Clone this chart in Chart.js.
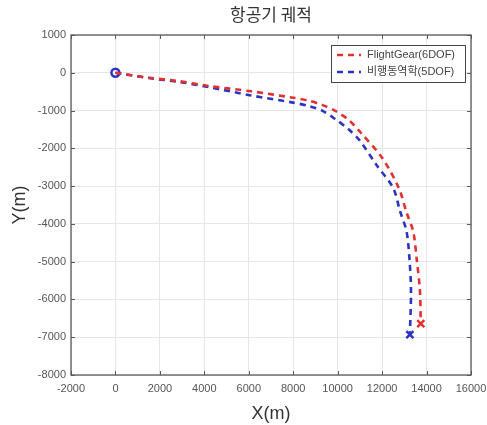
<!DOCTYPE html>
<html>
<head>
<meta charset="utf-8">
<script src="https://cdn.jsdelivr.net/npm/chart.js@4.4.1/dist/chart.umd.min.js"></script>
<style>
  html, body { margin: 0; padding: 0; background: #fff; }
  #wrap { width: 487px; height: 425px; }
</style>
</head>
<body>
<div id="wrap"><canvas id="traj"></canvas></div>
<script>
// 궤적 데이터
const fgX = [0, 1500, 2850, 4200, 6100, 8000, 8700, 9300, 9900, 10500, 11000, 12000, 12750, 13100, 13400, 13560, 13700, 13740];
const fgY = [0, -130, -220, -350, -490, -660, -740, -850, -1010, -1250, -1560, -2250, -3050, -3700, -4200, -4950, -5750, -6640];
const dynX = [0, 1500, 2850, 4200, 6100, 8000, 8700, 9300, 9900, 10500, 11000, 11760, 12500, 12800, 13100, 13240, 13300, 13250];
const dynY = [0, -140, -240, -380, -600, -790, -880, -1000, -1230, -1500, -1800, -2450, -3050, -3650, -4200, -5000, -5800, -6930];
const labels = ["FlightGear(6DOF)", "비행동역학(5DOF)"];
const chartTitle = "항공기 궤적";
const xTicks = [-2000, 0, 2000, 4000, 6000, 8000, 10000, 12000, 14000, 16000];
const yTicks = [-8000, -7000, -6000, -5000, -4000, -3000, -2000, -1000, 0, 1000];

const RED = "#e0302f";
const BLUE = "#2b34c4";

function pts(xs, ys) {
    return xs.map((x, i) => ({ x: x, y: ys[i] }));
}
const last = (a) => a[a.length - 1];

// 박스 테두리 + 안쪽 눈금 + 제목 (그래프 영역 기준 가운데)
const boxPlugin = {
    id: "box",
    afterDraw(chart) {
        const { ctx, chartArea: a, scales } = chart;
        ctx.save();
        ctx.strokeStyle = "#5a5a5a";
        ctx.lineWidth = 1;
        ctx.beginPath();
        xTicks.forEach((v) => {
            const px = Math.round(scales.x.getPixelForValue(v)) + 0.5;
            ctx.moveTo(px, a.bottom); ctx.lineTo(px, a.bottom - 4);
            ctx.moveTo(px, a.top); ctx.lineTo(px, a.top + 4);
        });
        yTicks.forEach((v) => {
            const py = Math.round(scales.y.getPixelForValue(v)) + 0.5;
            ctx.moveTo(a.left, py); ctx.lineTo(a.left + 4, py);
            ctx.moveTo(a.right, py); ctx.lineTo(a.right - 4, py);
        });
        ctx.stroke();
        ctx.lineWidth = 1.3;
        ctx.strokeRect(a.left, a.top, a.right - a.left, a.bottom - a.top);

        ctx.fillStyle = "#333";
        ctx.font = "17px 'Noto Sans CJK KR', sans-serif";
        ctx.textAlign = "center";
        ctx.textBaseline = "middle";
        ctx.fillText(chartTitle, (a.left + a.right) / 2, 15);
        ctx.restore();
    },
};

// 범례 (그래프 안쪽 오른쪽 위)
const legendPlugin = {
    id: "boxLegend",
    afterDraw(chart) {
        const { ctx, chartArea: a } = chart;
        const w = 134, h = 37;
        const x0 = a.right - w - 6, y0 = a.top + 10;
        ctx.save();
        ctx.fillStyle = "#fff";
        ctx.fillRect(x0, y0, w, h);
        ctx.strokeStyle = "#444";
        ctx.lineWidth = 1;
        ctx.strokeRect(x0 + 0.5, y0 + 0.5, w, h);
        ctx.font = "11px 'Liberation Sans', 'Noto Sans CJK KR', sans-serif";
        ctx.textBaseline = "middle";
        [RED, BLUE].forEach((c, i) => {
            const yy = y0 + 10 + i * 17;
            ctx.strokeStyle = c;
            ctx.lineWidth = 2.5;
            ctx.setLineDash([6, 5]);
            ctx.beginPath();
            ctx.moveTo(x0 + 6, yy); ctx.lineTo(x0 + 30, yy);
            ctx.stroke();
            ctx.setLineDash([]);
            ctx.fillStyle = "#444";
            ctx.fillText(chart.data.datasets[i].label, x0 + 36, yy);
        });
        ctx.restore();
    },
};

new Chart(document.getElementById("traj"), {
    type: "scatter",
    data: {
        datasets: [
            {
                label: labels[0],
                data: pts(fgX, fgY),
                showLine: true,
                borderColor: RED,
                borderWidth: 2.6,
                borderDash: [6, 5],
                pointRadius: 0,
                tension: 0.3,
            },
            {
                label: labels[1],
                data: pts(dynX, dynY),
                showLine: true,
                borderColor: BLUE,
                borderWidth: 2.6,
                borderDash: [6, 5],
                pointRadius: 0,
                tension: 0.3,
            },
            {
                label: "end",
                data: [{ x: last(fgX), y: last(fgY) }],
                pointStyle: "crossRot",
                pointRadius: 5,
                borderWidth: 2.5,
                borderColor: RED,
            },
            {
                label: "end2",
                data: [{ x: last(dynX), y: last(dynY) }],
                pointStyle: "crossRot",
                pointRadius: 5,
                borderWidth: 2.5,
                borderColor: BLUE,
            },
            {
                label: "start",
                data: [{ x: fgX[0], y: fgY[0] }],
                pointStyle: "circle",
                pointRadius: 4,
                borderWidth: 2.5,
                borderColor: BLUE,
                backgroundColor: "#fff",
            },
        ],
    },
    options: {
        responsive: true,
        maintainAspectRatio: false,
        animation: false,
        layout: { padding: { left: 0, right: 0, top: 35, bottom: 0 } },
        plugins: {
            legend: { display: false },
            tooltip: { enabled: false },
            title: { display: false },
        },
        scales: {
            x: {
                type: "linear",
                min: -2000,
                max: 16000,
                afterBuildTicks: (s) => { s.ticks = xTicks.map((v) => ({ value: v })); },
                afterFit: (s) => { s.height = 50; s.paddingRight = 16; s.paddingLeft = 0; },
                ticks: {
                    color: "#555",
                    font: { family: "'Liberation Sans'", size: 11 },
                    maxRotation: 0,
                    padding: 7,
                    callback: (v) => String(v),
                },
                grid: { color: "#e6e6e6", drawTicks: false },
                border: { display: false },
                title: {
                    display: true,
                    text: "X(m)",
                    color: "#333",
                    font: { family: "'Liberation Sans'", size: 18 },
                    padding: { top: 2, bottom: 0 },
                },
            },
            y: {
                type: "linear",
                min: -8000,
                max: 1000,
                afterBuildTicks: (s) => { s.ticks = yTicks.map((v) => ({ value: v })); },
                afterFit: (s) => { s.width = 71; },
                ticks: {
                    color: "#555",
                    font: { family: "'Liberation Sans'", size: 11 },
                    padding: 5,
                    callback: (v) => String(v),
                },
                grid: { color: "#e6e6e6", drawTicks: false },
                border: { display: false },
                title: {
                    display: true,
                    text: "Y(m)",
                    color: "#333",
                    font: { family: "'Liberation Sans'", size: 18 },
                    padding: { top: 9, bottom: 2 },
                },
            },
        },
    },
    plugins: [boxPlugin, legendPlugin],
});
</script>
</body>
</html>
